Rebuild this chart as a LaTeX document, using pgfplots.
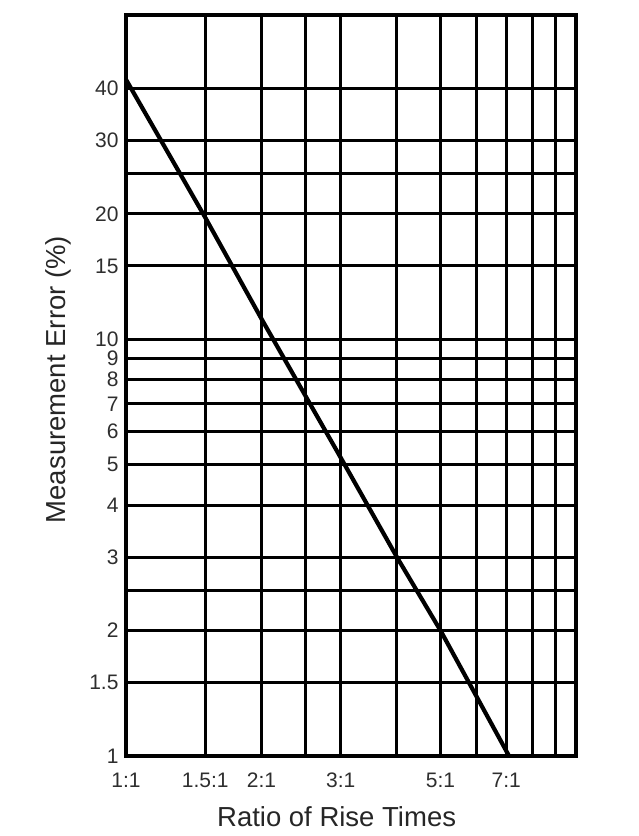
\documentclass[border=0pt]{standalone}
\usepackage{pgfplots}
\pgfplotsset{compat=1.18}
\usepackage{fontspec}
\setmainfont{Liberation Sans}
\begin{document}
\begin{tikzpicture}
\begin{axis}[
  xmode=log, ymode=log,
  scale only axis, width=450pt, height=741pt,
  xmin=1, xmax=10, ymin=1, ymax=60,
  xtick={1,1.5,2,2.5,3,4,5,6,7,8,9,10},
  xticklabels={1:1,1.5:1,2:1,,3:1,,5:1,,7:1,,,},
  ytick={1,1.5,2,2.5,3,4,5,6,7,8,9,10,15,20,25,30,40},
  yticklabels={1,1.5,2,,3,4,5,6,7,8,9,10,15,20,,30,40},
  minor xtick={}, minor ytick={},
  major tick length=0pt, minor tick length=0pt,
  grid=major,
  major grid style={black, line width=2.9pt},
  axis line style={black, line width=3.2pt},
  ticklabel style={font=\fontsize{21}{21}\selectfont, text=black!82},
  xticklabel style={anchor=base, yshift=-31pt},
  yticklabel style={xshift=-4pt},
  xlabel={Ratio of Rise Times},
  ylabel={Measurement Error (\%)},
  every axis x label/.style={at={(axis description cs:0.468,-0.0945)}, anchor=base, font=\fontsize{27.5}{27.5}\selectfont, text=black!85},
  every axis y label/.style={at={(axis description cs:-0.151,0.508)}, rotate=90, anchor=center, font=\fontsize{27.5}{27.5}\selectfont, text=black!85},
]
\addplot[black, line width=4.2pt] coordinates {(1,42) (1.5,19.6) (2,11.2) (3,5.2) (4,3) (5,2) (7.1,1)};
\coordinate (SW) at (rel axis cs:0,0);
\coordinate (NE) at (rel axis cs:1,1);
\end{axis}
\pgfresetboundingbox
\path ([shift={(-126pt,-80pt)}]SW) rectangle ([shift={(63pt,15pt)}]NE);
\end{tikzpicture}
\end{document}
